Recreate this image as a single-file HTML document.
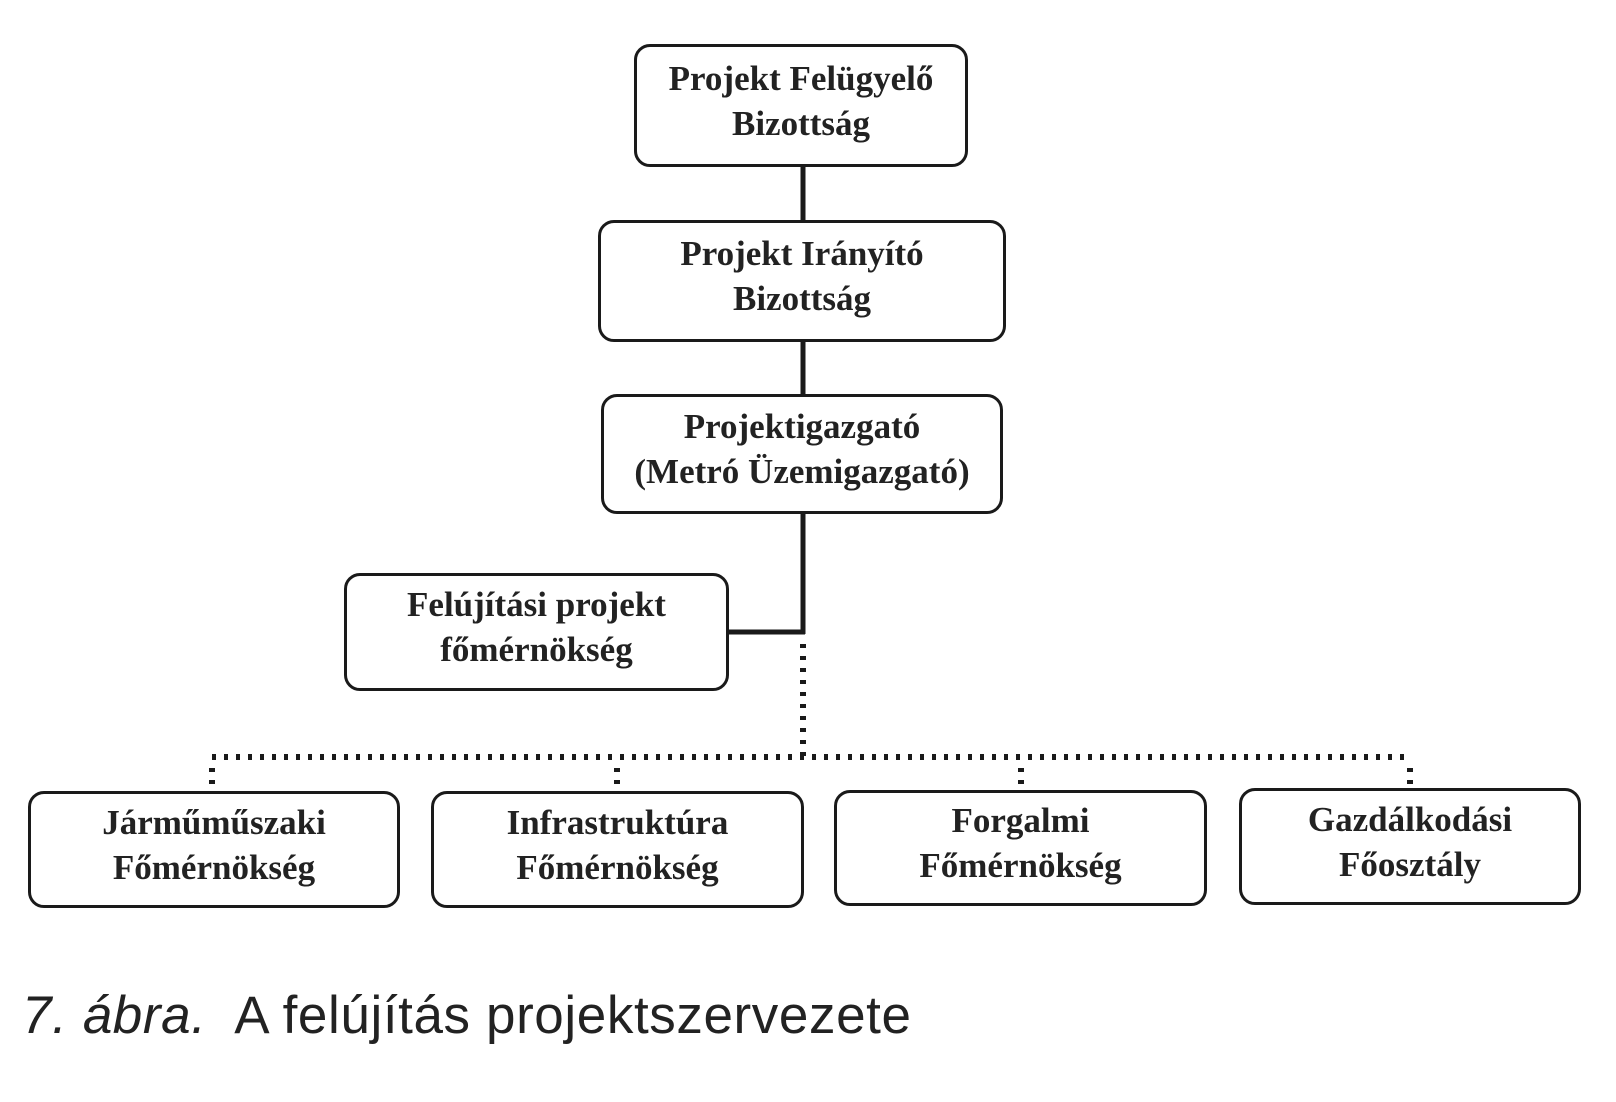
<!DOCTYPE html>
<html><head><meta charset="utf-8"><style>
body{margin:0;background:#fff;width:1616px;height:1102px;position:relative;overflow:hidden}
.b{position:absolute;border:3px solid #1a1a1a;border-radius:16px;box-sizing:border-box;display:flex;align-items:center;justify-content:center;text-align:center;font-family:"Liberation Serif",serif;font-weight:bold;font-size:35px;line-height:45px;color:#222;padding-bottom:10px}
.cap{position:absolute;left:22px;top:985px;font-family:"Liberation Sans",sans-serif;font-size:53px;letter-spacing:0.6px;color:#222;white-space:nowrap}
</style></head><body>
<svg width="1616" height="1102" style="position:absolute;left:0;top:0">
<g stroke="#1a1a1a" stroke-width="5" fill="none">
<line x1="803" y1="166" x2="803" y2="222"/>
<line x1="803" y1="340" x2="803" y2="396"/>
<line x1="803" y1="512" x2="803" y2="634"/>
<line x1="728" y1="632" x2="805" y2="632"/>
</g>
<g stroke="#1a1a1a" stroke-width="6" stroke-dasharray="4 8" fill="none">
<line x1="803" y1="644" x2="803" y2="757"/>
<line x1="212" y1="757" x2="1412" y2="757"/>
<line x1="212" y1="768" x2="212" y2="790"/>
<line x1="617" y1="768" x2="617" y2="790"/>
<line x1="1021" y1="768" x2="1021" y2="790"/>
<line x1="1410" y1="768" x2="1410" y2="788"/>
</g>
</svg>
<div class="b" style="left:634px;top:44px;width:334px;height:123px">Projekt Felügyelő<br>Bizottság</div>
<div class="b" style="left:598px;top:220px;width:408px;height:122px">Projekt Irányító<br>Bizottság</div>
<div class="b" style="left:601px;top:394px;width:402px;height:120px">Projektigazgató<br>(Metró Üzemigazgató)</div>
<div class="b" style="left:344px;top:573px;width:385px;height:118px">Felújítási projekt<br>főmérnökség</div>
<div class="b" style="left:28px;top:791px;width:372px;height:117px">Járműműszaki<br>Főmérnökség</div>
<div class="b" style="left:431px;top:791px;width:373px;height:117px">Infrastruktúra<br>Főmérnökség</div>
<div class="b" style="left:834px;top:790px;width:373px;height:116px">Forgalmi<br>Főmérnökség</div>
<div class="b" style="left:1239px;top:788px;width:342px;height:117px">Gazdálkodási<br>Főosztály</div>
<div class="cap"><i>7. ábra.</i>&nbsp; A felújítás projektszervezete</div>
</body></html>
